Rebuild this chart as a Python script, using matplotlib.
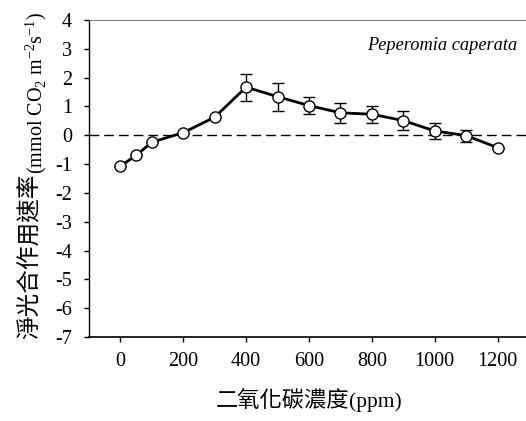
import matplotlib
matplotlib.use("Agg")
import matplotlib.pyplot as plt

plt.rcParams['font.family'] = ['Liberation Serif', 'Noto Sans CJK TC']
plt.rcParams['mathtext.fontset'] = 'custom'
plt.rcParams['mathtext.rm'] = 'Liberation Serif'
plt.rcParams['axes.unicode_minus'] = False

# 二氧化碳濃度 (ppm) 與淨光合作用速率
co2 = [0, 50, 100, 200, 300, 400, 500, 600, 700, 800, 900, 1000, 1100, 1200]
rate = [-1.07, -0.70, -0.24, 0.09, 0.63, 1.67, 1.34, 1.03, 0.78, 0.73, 0.51, 0.15, -0.01, -0.43]
err = [0, 0, 0, 0, 0, 0.47, 0.49, 0.30, 0.35, 0.30, 0.33, 0.27, 0.21, 0]

x_ticks = [0, 200, 400, 600, 800, 1000, 1200]
y_ticks = [4, 3, 2, 1, 0, -1, -2, -3, -4, -5, -6, -7]

W, H = 526, 421
fig = plt.figure(figsize=(W / 100, H / 100), dpi=100)
ax = fig.add_axes([89 / W, 84 / H, 440 / W, 317 / H])

ax.axhline(0, color='black', lw=1.0, ls=(0, (7, 3.6)), zorder=1)
ax.errorbar(co2, rate, yerr=err, fmt='none', ecolor='black', elinewidth=1.0,
            capsize=4, capthick=1.0, zorder=2)
ax.plot(co2, rate, color='black', lw=2.0, marker='o', markersize=8,
        markerfacecolor='white', markeredgecolor='black', markeredgewidth=1.0, zorder=3)

ax.set_xlim(-100, 1300)
ax.set_ylim(-7, 4)
ax.set_xticks(x_ticks)
ax.set_yticks(y_ticks)
ax.tick_params(direction='out', length=3.6, width=1, labelsize=14.5)
ax.tick_params(axis='x', pad=7)
ax.tick_params(axis='y', pad=8.5)

ax.spines['right'].set_visible(False)
ax.spines['top'].set_color('#808080')
ax.spines['left'].set_linewidth(1.0)
ax.spines['bottom'].set_linewidth(1.2)

ax.text(1264, 2.96, 'Peperomia caperata', style='italic', fontsize=13.2,
        ha='right', va='baseline')

# x 軸標題
fig.text(349 / W, 14 / H, '二氧化碳濃度', fontsize=16, family='Noto Sans CJK TC',
         fontweight='light', ha='right', va='baseline')
fig.text(349 / W, 14 / H, '(ppm)', fontsize=15.5, ha='left', va='baseline')

# y 軸標題
fig.text(37 / W, (H - 174) / H, '淨光合作用速率', fontsize=17, family='Noto Sans CJK TC',
         fontweight='light', rotation=90, rotation_mode='anchor', ha='right', va='baseline')
fig.text(42 / W, (H - 174) / H, '(mmol CO$_2$ m$^{-2}$s$^{-1}$)', fontsize=14.5,
         rotation=90, rotation_mode='anchor', ha='left', va='baseline')

fig.savefig('out.png', dpi=100)
